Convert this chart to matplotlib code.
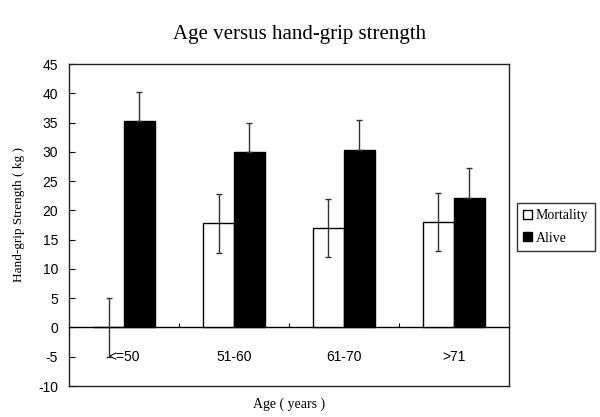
import matplotlib.pyplot as plt
import numpy as np

plt.rcParams["axes.unicode_minus"] = False

# data
age_groups    = ["<=50", "51-60", "61-70", ">71"]
mortality     = [0.0, 17.8, 17.0, 18.0]
mortality_err = [5.0, 5.0, 5.0, 5.0]
alive         = [35.3, 29.9, 30.4, 22.2]
alive_err     = [5.0, 5.1, 5.0, 5.0]
y_ticks       = list(range(-10, 50, 5))

serif = "Liberation Serif"
sans  = "Liberation Sans"

fig = plt.figure(figsize=(6, 4.17), dpi=100)
ax = fig.add_axes([0.115, 0.0743, 0.733, 0.772])

x = np.arange(len(age_groups))
w = 0.28
err_kw = dict(ecolor="#333333", elinewidth=1, capsize=2.5, capthick=1)

ax.bar(x - w/2, mortality, w, color="white", edgecolor="black", linewidth=1,
       yerr=mortality_err, error_kw=err_kw, label="Mortality", zorder=2)
# only the upper whisker shows above the black bars
ax.bar(x + w/2, alive, w, color="black", edgecolor="black", linewidth=1,
       yerr=[np.zeros(len(alive)), alive_err], error_kw=err_kw, label="Alive", zorder=2)

ax.set_xlim(-0.5, len(age_groups) - 0.5)
ax.set_ylim(-10, 45)
ax.set_yticks(y_ticks)
ax.set_xticks([])
ax.tick_params(axis="y", direction="in", length=4, pad=8, labelsize=10)
for lbl in ax.get_yticklabels():
    lbl.set_fontfamily(sans)
for s in ax.spines.values():
    s.set_linewidth(1)
    s.set_color("#222222")

# category axis crossing at zero
sec = ax.secondary_xaxis(10 / 55)
sec.set_xticks(x[:-1] + 0.5)
sec.set_xticks(x, labels=age_groups, minor=True)
sec.tick_params(axis="x", which="major", direction="in", length=3, labelbottom=False)
sec.tick_params(axis="x", which="minor", length=0, pad=16, labelsize=10)
for lbl in sec.get_xticklabels(minor=True):
    lbl.set_fontfamily(sans)
sec.spines["bottom"].set_linewidth(1)

ax.set_xlabel("Age ( years )", fontfamily=serif, fontsize=10, labelpad=8)
ax.set_ylabel("Hand-grip Strength ( kg )", fontfamily=serif, fontsize=9.5)
ax.yaxis.set_label_coords(-0.1, 0.534)
fig.suptitle("Age versus hand-grip strength", fontfamily=serif, fontsize=15, y=0.94)

leg = fig.legend(loc="center left", bbox_to_anchor=(0.862, 0.456), frameon=True,
                 fancybox=False, edgecolor="black", prop={"family": serif, "size": 10},
                 handlelength=0.6, handleheight=0.6, handletextpad=0.3,
                 borderpad=0.45, labelspacing=0.7, borderaxespad=0)
leg.get_frame().set_linewidth(1)

fig.savefig("out.png", dpi=100)
